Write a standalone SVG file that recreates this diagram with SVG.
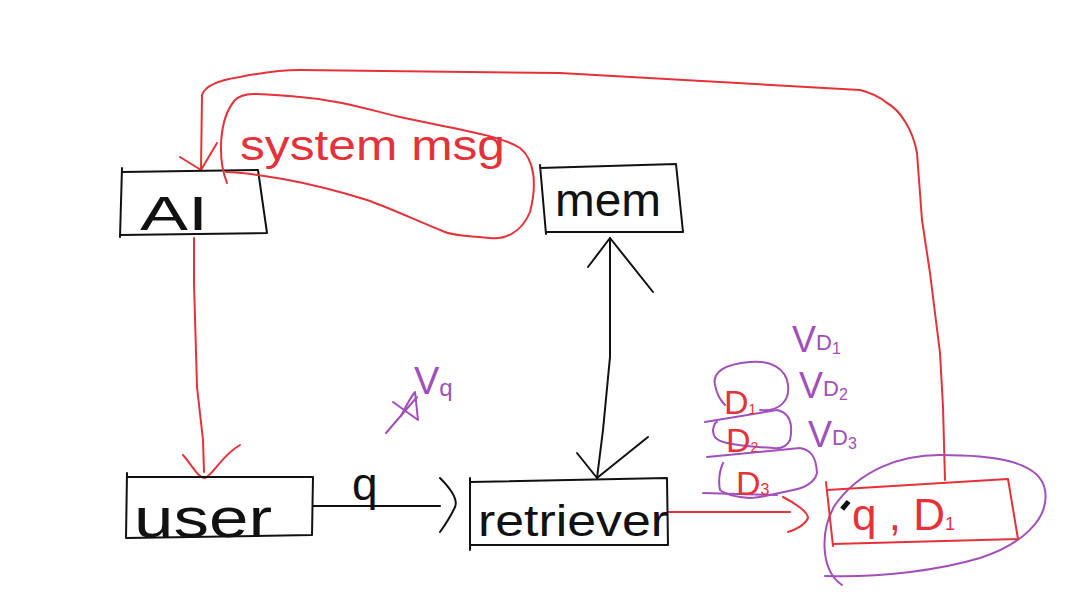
<svg xmlns="http://www.w3.org/2000/svg" width="1066" height="607" viewBox="0 0 1066 607">
<style>
.k{fill:none;stroke:#111;stroke-width:2;stroke-linejoin:round;stroke-linecap:round}
.r{fill:none;stroke:#e5323a;stroke-width:2;stroke-linejoin:round;stroke-linecap:round}
.p{fill:none;stroke:#a050b8;stroke-width:2;stroke-linejoin:round;stroke-linecap:round}
.t{font-family:"Liberation Sans","DejaVu Sans",sans-serif;}
.tk{fill:#111}
.tr{fill:#e5323a}
.tp{fill:#a050b8}
</style>
<rect width="1066" height="607" fill="#fff"/>
<g id="connectors">
  <path class="r" d="M945,480 L943,407 L940,353 L930,273 L922,220 L917,153 C913,130 900,110 887,103 C880,97 872,93 860,90 L560,73 L300,70 C280,70 260,73 240,77 C220,80 205,85 202,95 L201,170"/>
  <path class="r" d="M180,157 L201,170 L217,143"/>
  <path class="r" d="M194,238 L194,283 L197,387 L203,440 L204,472"/>
  <path class="r" d="M183,455 C192,465 198,478 205,478 C213,475 222,455 240,445"/>
  <path class="k" d="M313,506 L440,506"/>
  <path class="k" d="M440,478 C452,490 458,500 455,507 C450,518 445,525 440,532"/>
  <path class="k" d="M610,238 L610,357 L603,430 L597,478"/>
  <path class="k" d="M588,267 L610,238 L653,292"/>
  <path class="k" d="M577,453 L597,478 L648,437"/>
  <path class="r" d="M668,512 L790,512"/>
  <path class="r" d="M783,497 C795,503 808,512 808,518 C805,525 795,530 788,532"/>
  <path class="p" d="M386,433 L417,397"/>
  <path class="p" d="M393,402 L418,420 L415,392 C410,398 405,408 401,416"/>
  <text class="t tk" x="352" y="500" font-size="46">q</text>
  <text class="t tp" x="414" y="394" font-size="38">V<tspan font-size="24" dy="2">q</tspan></text>
</g>
<g id="ai">
  <path class="k" d="M122,168 L120,237 M122,172 L258,170 L267,233 L120,235"/>
  <text class="t tk" x="140" y="230" font-size="48" textLength="68" lengthAdjust="spacingAndGlyphs">AI</text>
</g>
<g id="system-msg">
  <path class="r" d="M227,183 C218,160 218,120 235,100 C245,90 270,95 300,97 C340,100 370,110 400,117 C450,128 500,135 520,148 C535,160 537,185 530,212 C522,232 505,240 490,238 C470,236 455,236 445,232 C415,220 390,208 367,200 C335,190 305,183 283,179 C260,175 240,172 226,172"/>
  <text class="t tr" x="240" y="160" font-size="42" textLength="265" lengthAdjust="spacingAndGlyphs">system msg</text>
</g>
<g id="mem">
  <path class="k" d="M540,165 L546,234 M540,168 L676,164 L683,232 L547,232"/>
  <text class="t tk" x="555" y="216" font-size="46" textLength="106" lengthAdjust="spacingAndGlyphs">mem</text>
</g>
<g id="user">
  <path class="k" d="M127,473 L126,538 M127,477 L313,477 L312,535 L126,538"/>
  <text class="t tk" x="134" y="537" font-size="56" textLength="138" lengthAdjust="spacingAndGlyphs">user</text>
</g>
<g id="retriever">
  <path class="k" d="M470,478 L470,550 M470,482 L667,478 L668,545 L470,545"/>
  <text class="t tk" x="478" y="536" font-size="44" textLength="190" lengthAdjust="spacingAndGlyphs">retriever</text>
</g>
<g id="docs">
  <path class="p" d="M760,410 C780,412 790,400 788,385 C786,368 770,360 750,362 C725,364 712,372 715,385 C717,395 722,402 725,405"/>
  <path class="p" d="M705,422 L777,410 C790,413 793,425 790,440 C786,448 780,449 773,448 C755,447 740,446 727,443 C718,441 713,438 713,430 C714,424 716,422 717,422"/>
  <path class="p" d="M707,457 L800,448 C810,450 816,455 817,473 C815,482 805,488 793,490 C775,494 760,498 750,498 C735,497 725,494 720,490 C718,480 720,470 723,463"/>
  <path class="p" d="M703,493 L777,495"/>
  <text class="t tr" x="724" y="414" font-size="34">D<tspan font-size="14">1</tspan></text>
  <text class="t tr" x="726" y="452" font-size="34">D<tspan font-size="14">2</tspan></text>
  <text class="t tr" x="736" y="495" font-size="34">D<tspan font-size="16">3</tspan></text>
  <text class="t tp" x="792" y="352" font-size="36">V<tspan font-size="22" dy="-2">D</tspan><tspan font-size="16" dy="4">1</tspan></text>
  <text class="t tp" x="799" y="398" font-size="36">V<tspan font-size="22" dy="-2">D</tspan><tspan font-size="16" dy="4">2</tspan></text>
  <text class="t tp" x="808" y="447" font-size="36">V<tspan font-size="22" dy="-2">D</tspan><tspan font-size="16" dy="4">3</tspan></text>
</g>
<g id="q-d1">
  <path class="p" d="M842,585 C820,570 820,530 835,505 C860,470 900,455 940,455 C990,455 1040,460 1045,490 C1050,520 1020,545 980,558 C940,570 880,578 825,576"/>
  <path class="r" d="M826,482 L833,546 M827,490 L1008,479 L1018,539 L833,544"/>
  <text class="t tr" x="852" y="530" font-size="44">q , D<tspan font-size="18">1</tspan></text>
  <rect x="843" y="500" width="5" height="10" fill="#111" transform="rotate(40 845 505)"/>
</g>
</svg>
